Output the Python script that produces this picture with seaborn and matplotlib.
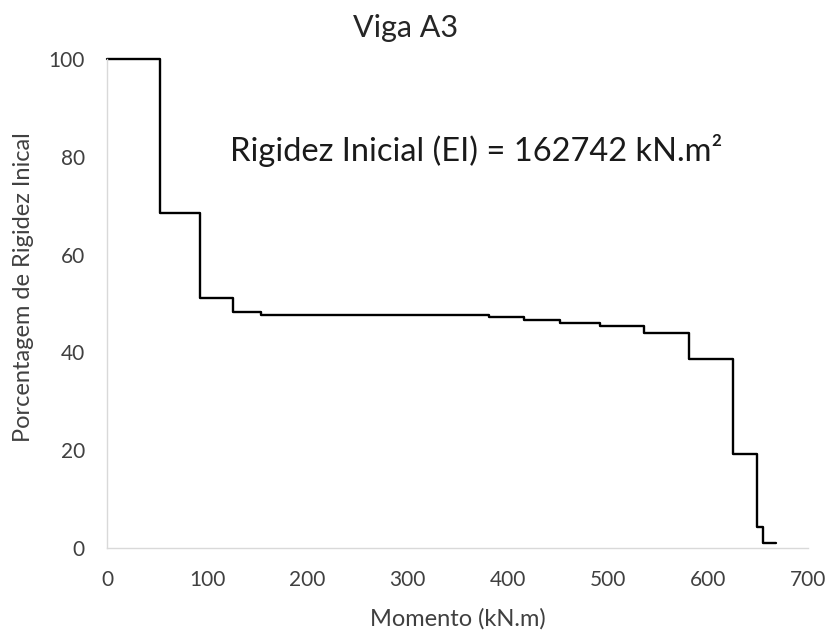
import matplotlib
matplotlib.use("Agg")
import matplotlib.pyplot as plt
import seaborn as sns

# dados (degraus)
momento = [0, 53, 93, 126, 154, 381, 416, 452, 492, 536, 581, 625, 649, 655, 668]
rigidez_pct = [100, 68.6, 51.2, 48.2, 47.7, 47.3, 46.6, 46.0, 45.5, 43.9, 38.7, 19.3, 4.3, 1.0, 1.0]
x_ticks = [0, 100, 200, 300, 400, 500, 600, 700]
y_ticks = [0, 20, 40, 60, 80, 100]

sns.set_theme(style="white")
plt.rcParams['font.family'] = ['Lato', 'DejaVu Sans']

fig = plt.figure(figsize=(8.34, 6.32), dpi=100)
ax = fig.add_axes([107 / 834, 1 - 548 / 632, (808 - 107) / 834, (548 - 59) / 632])

sns.lineplot(x=momento, y=rigidez_pct, ax=ax, color='black', linewidth=1.7,
             drawstyle='steps-post', sort=False, estimator=None)
ax.lines[0].set_clip_on(False)

ax.set_xlim(0, 700)
ax.set_ylim(0, 100)
ax.set_xticks(x_ticks)
ax.set_yticks(y_ticks)
ax.tick_params(axis='both', length=0, labelsize=15, colors='#404040')
ax.tick_params(axis='x', pad=16)
ax.tick_params(axis='y', pad=16)

for s in ['top', 'right']:
    ax.spines[s].set_visible(False)
for s in ['left', 'bottom']:
    ax.spines[s].set_color('#d9d9d9')
    ax.spines[s].set_linewidth(1.0)

ax.set_xlabel('Momento (kN.m)', fontsize=17, color='#404040', labelpad=13)
ax.set_ylabel('')
fig.text(24 / 834, 1 - 287 / 632, 'Porcentagem de Rigidez Inical', rotation=90,
         fontsize=17, color='#404040', ha='center', va='center')

fig.text(406 / 834, 1 - 28 / 632, 'Viga A3', fontsize=22, color='#262626',
         ha='center', va='center')

ax.text(123, 79.1, 'Rigidez Inicial (EI) = 162742 kN.m²', fontsize=23.5,
        color='#1a1a1a', ha='left', va='baseline')

fig.savefig('out.png', dpi=100, facecolor='white')
